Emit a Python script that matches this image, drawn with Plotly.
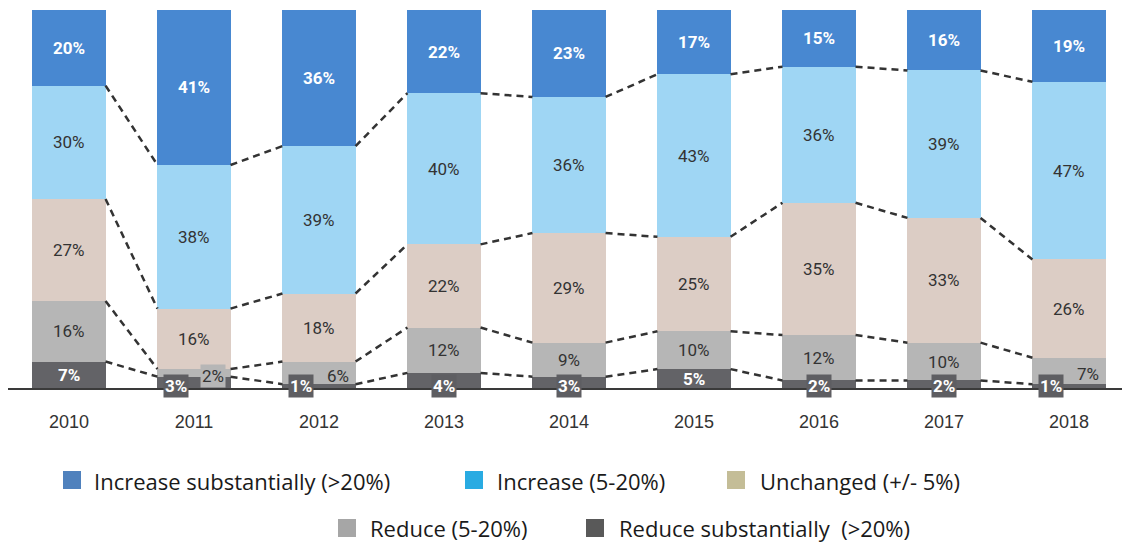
import plotly.graph_objects as go

years = ['2010', '2011', '2012', '2013', '2014', '2015', '2016', '2017', '2018']
inc_sub = [20, 41, 36, 22, 23, 17, 15, 16, 19]
inc = [30, 38, 39, 40, 36, 43, 36, 39, 47]
unch = [27, 16, 18, 22, 29, 25, 35, 33, 26]
red = [16, 2, 6, 12, 9, 10, 12, 10, 7]
red_sub = [7, 3, 1, 4, 3, 5, 2, 2, 1]

names = ['Increase substantially (>20%)', 'Increase (5-20%)', 'Unchanged (+/- 5%)',
         'Reduce (5-20%)', 'Reduce substantially\u00a0 (>20%)']

bar_colors = {'red_sub': '#636367', 'red': '#B6B6B6', 'unch': '#DCCDC5',
              'inc': '#9FD6F4', 'inc_sub': '#4888D1'}
legend_colors = ['#4F81BD', '#29ABE2', '#C4BD97', '#A6A6A6', '#595959']

# page has an 8px body margin, so the figure is drawn at offset (8, 8)
OFF = 8
W = 1122
H = 536
ML, MR, MT, MB = 0, 0, 2, 156
BW = 0.585
XR = [-0.488, 8.488]
LABEL_FONT = 'Roboto, Liberation Sans, Arial, sans-serif'

x = list(range(len(years)))
stack = [('red_sub', red_sub), ('red', red), ('unch', unch), ('inc', inc), ('inc_sub', inc_sub)]

fig = go.Figure()
for key, vals in stack:
    fig.add_trace(go.Bar(x=x, y=vals, width=BW, marker=dict(color=bar_colors[key], line=dict(width=0)),
                         showlegend=False, hoverinfo='skip'))

# cumulative boundaries
cum = []
run = [0] * len(years)
for key, vals in stack:
    run = [a + b for a, b in zip(run, vals)]
    cum.append(list(run))

# dashed connectors between adjacent bars
for b in cum[:4]:
    xs, ys = [], []
    for i in range(len(years) - 1):
        xs += [i + BW / 2, i + 1 - BW / 2, None]
        ys += [b[i], b[i + 1], None]
    fig.add_trace(go.Scatter(x=xs, y=ys, mode='lines', showlegend=False, hoverinfo='skip',
                             line=dict(color='#333333', width=2.5, dash='7px,5px')))

annotations = []
bottoms = [[0] * len(years)] + cum[:4]
txt_colors = {'red_sub': 'white', 'red': '#333333', 'unch': '#333333', 'inc': '#333333', 'inc_sub': 'white'}
for (key, vals), bot in zip(stack, bottoms):
    for i, v in enumerate(vals):
        mid = bot[i] + v / 2
        if key == 'red_sub' and v < 5:
            dx = -0.144 if red[i] < 8 else 0.0
            annotations.append(dict(x=i + dx, y=0, text='<b>%d%%</b>' % v, showarrow=False,
                                    yshift=2, font=dict(family=LABEL_FONT, size=17, color='white'),
                                    bgcolor='#5E5E62', borderpad=1, xanchor='center', yanchor='middle'))
        elif key == 'red' and v < 8:
            boxed = v < 4
            annotations.append(dict(x=i + 0.148, y=mid, text='%d%%' % v, showarrow=False,
                                    yshift=-3, font=dict(family=LABEL_FONT, size=17, color='#333333'),
                                    bgcolor=bar_colors['red'] if boxed else None, borderpad=1,
                                    xanchor='center', yanchor='middle'))
        else:
            txt = '<b>%d%%</b>' % v if txt_colors[key] == 'white' else '%d%%' % v
            annotations.append(dict(x=i, y=mid, text=txt, showarrow=False,
                                    font=dict(family=LABEL_FONT, size=17, color=txt_colors[key]),
                                    xanchor='center', yanchor='middle'))

# custom legend (page pixel layout converted to paper coords)
def px(xp):
    return (xp - OFF - ML) / (W - ML - MR)

def py(yp):
    return (H - MB - (yp - OFF)) / (H - MB - MT)

legend_items = [  # (square left, square top, text left, text centre y) in page px
    (63, 471, 93, 481),
    (465, 471, 496, 481),
    (727, 471, 759, 481),
    (338, 519, 369, 528),
    (586, 519, 618, 528),
]
shapes = []
for (sx, sy, tx, ty), name, col in zip(legend_items, names, legend_colors):
    shapes.append(dict(type='rect', xref='paper', yref='paper', x0=px(sx), x1=px(sx + 18),
                       y0=py(sy + 18), y1=py(sy), fillcolor=col, line=dict(width=0)))
    annotations.append(dict(xref='paper', yref='paper', x=px(tx), y=py(ty), text=name,
                            showarrow=False, xanchor='left', yanchor='middle', borderpad=0,
                            font=dict(family='Open Sans, sans-serif', size=22, color='#1A1A1A')))

fig.update_layout(
    barmode='stack', bargap=0,
    width=W, height=H,
    margin=dict(l=ML, r=MR, t=MT, b=MB, pad=0),
    paper_bgcolor='white', plot_bgcolor='white',
    xaxis=dict(tickmode='array', tickvals=x, ticktext=years, range=XR,
               showgrid=False, zeroline=False, showline=True, linecolor='#3A3A3A', linewidth=2,
               ticks='outside', ticklen=16, tickcolor='rgba(0,0,0,0)',
               tickfont=dict(family='Liberation Sans, Arial, sans-serif', size=18, color='#333333')),
    yaxis=dict(range=[0, 100], visible=False, fixedrange=True),
    annotations=annotations,
    shapes=shapes,
    font=dict(family='Liberation Sans, Arial, sans-serif'),
)

fig.write_html('out.html')
